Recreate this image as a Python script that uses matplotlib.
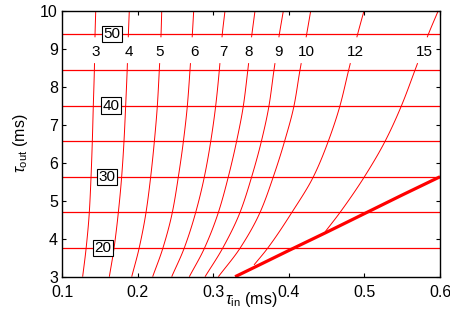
import matplotlib
matplotlib.use("Agg")
import matplotlib.pyplot as plt
import numpy as np

plt.rcParams['font.family'] = ['Liberation Sans', 'DejaVu Sans']
plt.rcParams['mathtext.fontset'] = 'custom'
plt.rcParams['mathtext.rm'] = 'Liberation Sans'
plt.rcParams['mathtext.it'] = 'Liberation Sans:italic'

# ---- data ----
tau_out_levels = [3.0, 3.75, 4.69, 5.63, 6.57, 7.5, 8.44, 9.38, 10.0]
curve_3 = [0.1273, 0.1319, 0.1361, 0.1384, 0.1401, 0.1414, 0.1428, 0.1437, 0.1446]
curve_4 = [0.1626, 0.1688, 0.1745, 0.1789, 0.1820, 0.1842, 0.1862, 0.1878, 0.1890]
curve_5 = [0.1922, 0.2020, 0.2111, 0.2173, 0.2222, 0.2261, 0.2287, 0.2310, 0.2319]
curve_6 = [0.2199, 0.2334, 0.2459, 0.2539, 0.2606, 0.2658, 0.2693, 0.2724, 0.2742]
curve_7 = [0.2451, 0.2616, 0.2768, 0.2883, 0.2968, 0.3033, 0.3081, 0.3120, 0.3156]
curve_8 = [0.2684, 0.2884, 0.3068, 0.3200, 0.3310, 0.3399, 0.3458, 0.3512, 0.3553]
curve_9 = [0.2892, 0.3125, 0.3354, 0.3509, 0.3638, 0.3738, 0.3804, 0.3875, 0.3928]
curve_10 = [0.3068, 0.3355, 0.3619, 0.3795, 0.3945, 0.4069, 0.4148, 0.4236, 0.4290]
curve_12_x = [0.354, 0.372, 0.404, 0.4325, 0.4523, 0.4677, 0.4792, 0.4910, 0.4995]
curve_12_y = [3.31, 3.75, 4.69, 5.63, 6.57, 7.5, 8.44, 9.38, 10.0]
curve_15_x = [0.448, 0.4677, 0.5000, 0.5275, 0.5490, 0.5670, 0.5846, 0.5977]
curve_15_y = [4.18, 4.69, 5.63, 6.57, 7.5, 8.44, 9.38, 10.0]

curve_labels = ['3', '4', '5', '6', '7', '8', '9', '10', '12', '15']
curve_label_x = [0.1446, 0.189, 0.2292, 0.2746, 0.313, 0.3465, 0.386, 0.4236, 0.4876, 0.5793]
curve_label_y = 8.92

hline_y = [3.75, 4.69, 5.63, 6.56, 7.5, 8.44, 9.38]
box_labels = ['20', '30', '40', '50']
box_label_x = [0.1542, 0.1595, 0.1646, 0.166]
box_label_y = [3.75, 5.63, 7.5, 9.38]

boundary_x = [0.329, 0.36, 0.40, 0.45, 0.50, 0.55, 0.60]
boundary_y = [3.00, 3.30, 3.69, 4.17, 4.66, 5.15, 5.63]

x_ticks = [0.1, 0.2, 0.3, 0.4, 0.5, 0.6]
y_ticks = [3, 4, 5, 6, 7, 8, 9, 10]

curves = [
    (curve_3, tau_out_levels), (curve_4, tau_out_levels), (curve_5, tau_out_levels),
    (curve_6, tau_out_levels), (curve_7, tau_out_levels), (curve_8, tau_out_levels),
    (curve_9, tau_out_levels), (curve_10, tau_out_levels),
    (curve_12_x, curve_12_y), (curve_15_x, curve_15_y),
]


def smooth_path(ys, xs, yq):
    """Monotone cubic (Fritsch-Carlson) path through the read points, for drawing."""
    ys = np.asarray(ys, float); xs = np.asarray(xs, float)
    h = np.diff(ys); d = np.diff(xs) / h
    m = np.zeros_like(xs)
    m[0], m[-1] = d[0], d[-1]
    for k in range(1, len(xs) - 1):
        if d[k - 1] * d[k] > 0:
            w1 = 2 * h[k] + h[k - 1]; w2 = h[k] + 2 * h[k - 1]
            m[k] = (w1 + w2) / (w1 / d[k - 1] + w2 / d[k])
    idx = np.clip(np.searchsorted(ys, yq) - 1, 0, len(h) - 1)
    t = (yq - ys[idx]) / h[idx]
    h00 = 2 * t**3 - 3 * t**2 + 1; h10 = t**3 - 2 * t**2 + t
    h01 = -2 * t**3 + 3 * t**2; h11 = t**3 - t**2
    return h00 * xs[idx] + h10 * h[idx] * m[idx] + h01 * xs[idx + 1] + h11 * h[idx] * m[idx + 1]


fig = plt.figure(figsize=(4.5, 3.2), dpi=100)
ax = fig.add_axes([0.1378, 0.1353, 0.84, 0.8313])

gap_lo, gap_hi = 8.62, 9.30
for xs, ys in curves:
    y0, y1 = ys[0], ys[-1]
    yl = np.linspace(y0, gap_lo, 80)
    yh = np.linspace(gap_hi, y1, 20)
    ax.plot(smooth_path(ys, xs, yl), yl, color='red', lw=0.7, solid_capstyle='butt')
    ax.plot(smooth_path(ys, xs, yh), yh, color='red', lw=0.7, solid_capstyle='butt')

for t, xv in zip(curve_labels, curve_label_x):
    ax.text(xv, curve_label_y, t, ha='center', va='center', fontsize=11)

for yv in hline_y:
    ax.axhline(yv, color='red', lw=0.9)

for t, xv, yv in zip(box_labels, box_label_x, box_label_y):
    ax.text(xv, yv, t, ha='center', va='center', fontsize=11, zorder=5,
            bbox=dict(boxstyle='square,pad=0.08', fc='white', ec='black', lw=0.8))

ax.plot(boundary_x, boundary_y, color='red', lw=2.3, solid_capstyle='butt')

ax.set_xlim(0.1, 0.6)
ax.set_ylim(3, 10)
ax.set_xticks(x_ticks)
ax.set_xticklabels([f'{v:.1f}' for v in x_ticks])
ax.set_yticks(y_ticks)
ax.tick_params(direction='in', top=True, right=True, length=3, width=0.8,
               labelsize=11.5)
ax.tick_params(axis='x', pad=6)
ax.tick_params(axis='y', pad=3)
for s in ax.spines.values():
    s.set_linewidth(1.0)

ax.set_xlabel(r'$\tau_{\mathrm{in}}$ (ms)', fontsize=11.5, labelpad=-7)
ax.set_ylabel(r'$\tau_{\mathrm{out}}$ (ms)', fontsize=11.5, labelpad=7)

fig.savefig('out.png', dpi=100)
